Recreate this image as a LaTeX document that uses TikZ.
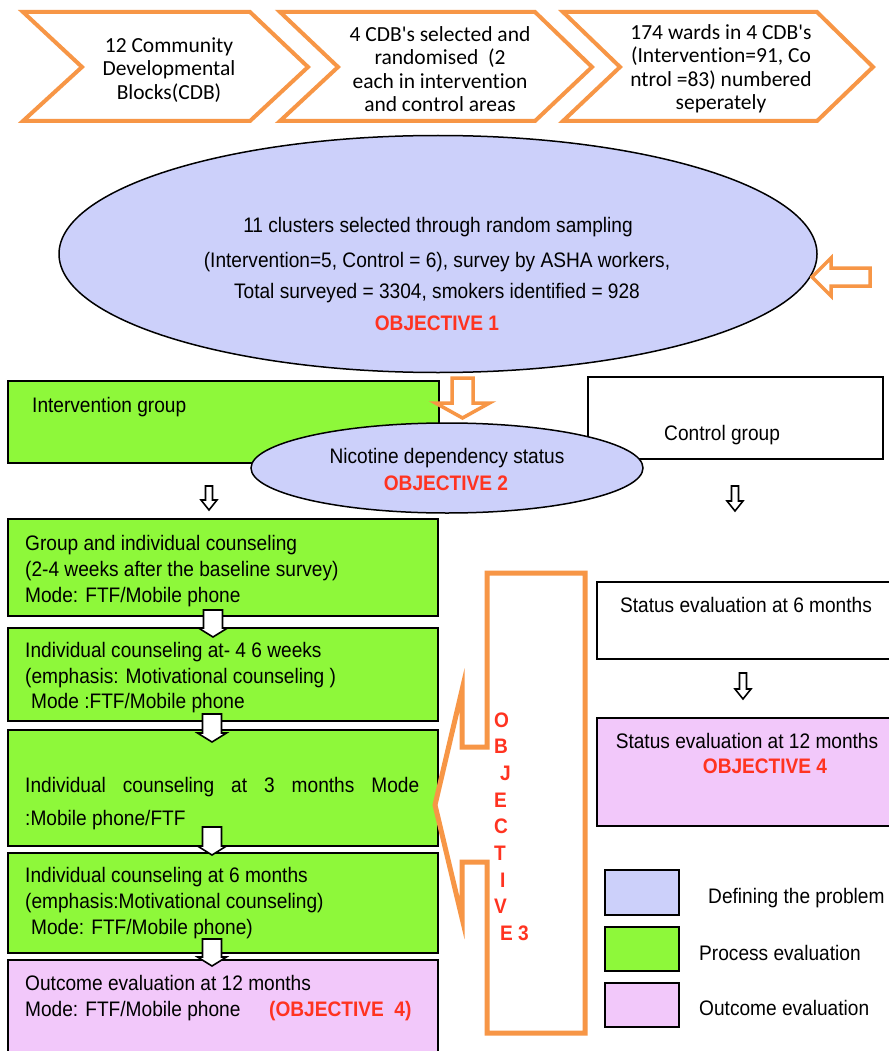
\documentclass[tikz,border=0pt]{standalone}
\usepackage{fontspec}
\setmainfont{Liberation Sans}[FakeStretch=0.91]
\newfontfamily\calfont{Carlito}[Ligatures=NoCommon]
\usetikzlibrary{shapes.geometric}
\definecolor{orng}{HTML}{F79646}
\definecolor{grn}{HTML}{8EF83A}
\definecolor{lav}{HTML}{CCD0FA}
\definecolor{pnk}{HTML}{F2C8FA}
\definecolor{objred}{HTML}{FF3320}
% hollow down arrow: style, x, ytop, ytip, shaft half width, head half width, head length
\newcommand\hdownarrow[7]{%
  \draw[#1] (#2-#5,#3) -- (#2+#5,#3) -- (#2+#5,#4-#7) -- (#2+#6,#4-#7) -- (#2,#4)
    -- (#2-#6,#4-#7) -- (#2-#5,#4-#7) -- cycle;}
\begin{document}
\begin{tikzpicture}[x=1pt,y=-1pt,
  txt/.style={inner sep=0pt, font=\fontsize{21}{26}\selectfont},
  objtxt/.style={inner sep=0pt, text=objred, font=\fontsize{21}{26}\selectfont\bfseries},
  chevtxt/.style={inner sep=0pt, align=center, font=\calfont\fontsize{21.5}{23.5}\selectfont},
  chev/.style={draw=orng, line width=4pt, line join=miter, fill=white},
  box/.style={draw=black, line width=2pt, inner sep=0pt, anchor=north west},
  blackarrow/.style={draw=black, line width=1.6pt, fill=white, line join=miter},
  orangearrow/.style={draw=orng, line width=3.5pt, fill=white, line join=miter}
]
\useasboundingbox (0,0) rectangle (888,1051);
\fill[white] (0,0) rectangle (888,1051);

% ---------- chevrons ----------
\draw[chev] (23,12) -- (250,12) -- (308,67) -- (250,121) -- (23,121) -- (82,67) -- cycle;
\draw[chev] (280,12) -- (535,12) -- (592,67) -- (535,121) -- (280,121) -- (338,67) -- cycle;
\draw[chev] (563,12) -- (817,12) -- (873,67) -- (817,121) -- (563,121) -- (620,67) -- cycle;
\node[chevtxt] (c1) at (169,70) {12 Community\\Developmental\\Blocks(CDB)};
\node[chevtxt] (c2) at (440,69) {4 CDB's selected and\\randomised~ (2\\each in intervention\\and control areas};
\node[chevtxt] (c3) at (721,69) {174 wards in 4 CDB's\\(Intervention=91, Co\\ntrol =83) numbered\\seperately};

% ---------- big ellipse ----------
\node[ellipse, draw=black, line width=1.5pt, fill=lav, minimum width=758pt, minimum height=237pt, inner sep=0pt] (e1) at (438,254) {};
\node[txt, anchor=base] (e1a) at (438,232) {11 clusters selected through random sampling};
\node[txt, anchor=base] (e1b) at (437,267) {(Intervention=5, Control = 6), survey by ASHA workers,};
\node[txt, anchor=base] (e1c) at (437,298) {Total surveyed = 3304, smokers identified = 928};
\node[objtxt, anchor=base] (e1d) at (437,330) {OBJECTIVE 1};
% orange arrow pointing at ellipse
\draw[orangearrow] (812,277) -- (831,258) -- (831,268) -- (870,268) -- (870,286) -- (831,286) -- (831,296) -- cycle;

% ---------- group boxes ----------
\node[box, fill=grn, minimum width=431pt, minimum height=82pt] (ig) at (7,380) {};
\node[txt, anchor=base west] (igt) at (32,412) {Intervention group};
\node[box, fill=white, minimum width=295pt, minimum height=82pt] (cg) at (587,376) {};
\node[txt, anchor=base west] (cgt) at (664,440) {Control group};
\hdownarrow{orangearrow}{462.5}{378}{418}{10.5}{27}{15}
\node[ellipse, draw=black, line width=1.5pt, fill=lav, minimum width=392pt, minimum height=90pt, inner sep=0pt] (e2) at (447,468) {};
\node[txt, anchor=base] (e2a) at (447,463) {Nicotine dependency status};
\node[objtxt, anchor=base] (e2b) at (446,490) {OBJECTIVE 2};
\hdownarrow{blackarrow}{209}{486}{510}{3.5}{8}{10}
\hdownarrow{blackarrow}{735}{486}{511}{3.5}{8}{10}

% ---------- intervention column ----------
\node[box, fill=grn, minimum width=430pt, minimum height=97pt] (b1) at (7,518) {};
\node[box, fill=grn, minimum width=430pt, minimum height=93pt] (b2) at (7,627) {};
\node[box, fill=grn, minimum width=430pt, minimum height=116pt] (b3) at (7,729) {};
\node[box, fill=grn, minimum width=430pt, minimum height=100pt] (b4) at (7,852) {};
\node[box, fill=pnk, minimum width=430pt, minimum height=110pt] (b5) at (7,959) {};

\node[txt, anchor=base west] (b1a) at (25,550) {Group and individual counseling};
\node[txt, anchor=base west] (b1b) at (25,576) {(2-4 weeks after the baseline survey)};
\node[txt, anchor=base west] (b1c) at (25,602) {Mode: FTF/Mobile phone};

\node[txt, anchor=base west] (b2a) at (25,657) {Individual counseling at- 4 6 weeks};
\node[txt, anchor=base west] (b2b) at (25,683) {(emphasis: Motivational counseling )};
\node[txt, anchor=base west] (b2c) at (31,708) {Mode :FTF/Mobile phone};

\node[txt, anchor=base west] (b3a) at (25,792) {\makebox[394pt][s]{Individual counseling at 3 months Mode}};
\node[txt, anchor=base west] (b3b) at (25,825) {:Mobile phone/FTF};

\node[txt, anchor=base west] (b4a) at (25,882) {Individual counseling at 6 months};
\node[txt, anchor=base west] (b4b) at (25,908) {(emphasis:Motivational counseling)};
\node[txt, anchor=base west] (b4c) at (31,934) {Mode: FTF/Mobile phone)};

\node[txt, anchor=base west] (b5a) at (25,990) {Outcome evaluation at 12 months};
\node[txt, anchor=base west] (b5b) at (25,1016) {Mode: FTF/Mobile phone};
\node[objtxt, anchor=base west] (b5c) at (269,1016) {(OBJECTIVE~ 4)};

\hdownarrow{blackarrow}{213}{610}{637}{9.5}{14.5}{9}
\hdownarrow{blackarrow}{212}{714}{742}{9.5}{14.5}{9}
\hdownarrow{blackarrow}{212}{827}{855}{9.5}{14.5}{9}
\hdownarrow{blackarrow}{212}{939}{966}{9.5}{14.5}{9}

% ---------- objective 3 callout ----------
\draw[draw=orng, line width=5pt, fill=white, line join=miter]
  (487,573) -- (585,573) -- (585,1033) -- (487,1033) -- (487,862) -- (462,862)
  -- (462,918) -- (435,805) -- (462,690) -- (462,747) -- (487,747) -- cycle;
\node[objtxt, anchor=base west] (o3a) at (494,727) {O};
\node[objtxt, anchor=base west] (o3b) at (494,753) {B};
\node[objtxt, anchor=base west] (o3c) at (500,780) {J};
\node[objtxt, anchor=base west] (o3d) at (494,807) {E};
\node[objtxt, anchor=base west] (o3e) at (494,833) {C};
\node[objtxt, anchor=base west] (o3f) at (494,860) {T};
\node[objtxt, anchor=base west] (o3g) at (500,887) {I};
\node[objtxt, anchor=base west] (o3h) at (494,913) {V};
\node[objtxt, anchor=base west] (o3i) at (500,940) {E 3};

% ---------- control column ----------
\node[box, fill=white, minimum width=300pt, minimum height=77pt] (s6) at (596,581) {};
\node[txt, anchor=base] (s6t) at (746,612) {Status evaluation at 6 months};
\hdownarrow{blackarrow}{743}{673}{699}{3.5}{8}{10}
\node[box, fill=pnk, minimum width=300pt, minimum height=108pt] (s12) at (596,717) {};
\node[txt, anchor=base] (s12a) at (747,748) {Status evaluation at 12 months};
\node[objtxt, anchor=base] (s12b) at (765,773) {OBJECTIVE 4};

% ---------- legend ----------
\node[box, fill=lav, minimum width=74pt, minimum height=45pt] (l1) at (604,869) {};
\node[box, fill=grn, minimum width=74pt, minimum height=44pt] (l2) at (604,926) {};
\node[box, fill=pnk, minimum width=74pt, minimum height=44pt] (l3) at (604,982) {};
\node[txt, anchor=base west] (l1t) at (708,903) {Defining the problem};
\node[txt, anchor=base west] (l2t) at (699,960) {Process evaluation};
\node[txt, anchor=base west] (l3t) at (699,1015) {Outcome evaluation};
\end{tikzpicture}
\end{document}
